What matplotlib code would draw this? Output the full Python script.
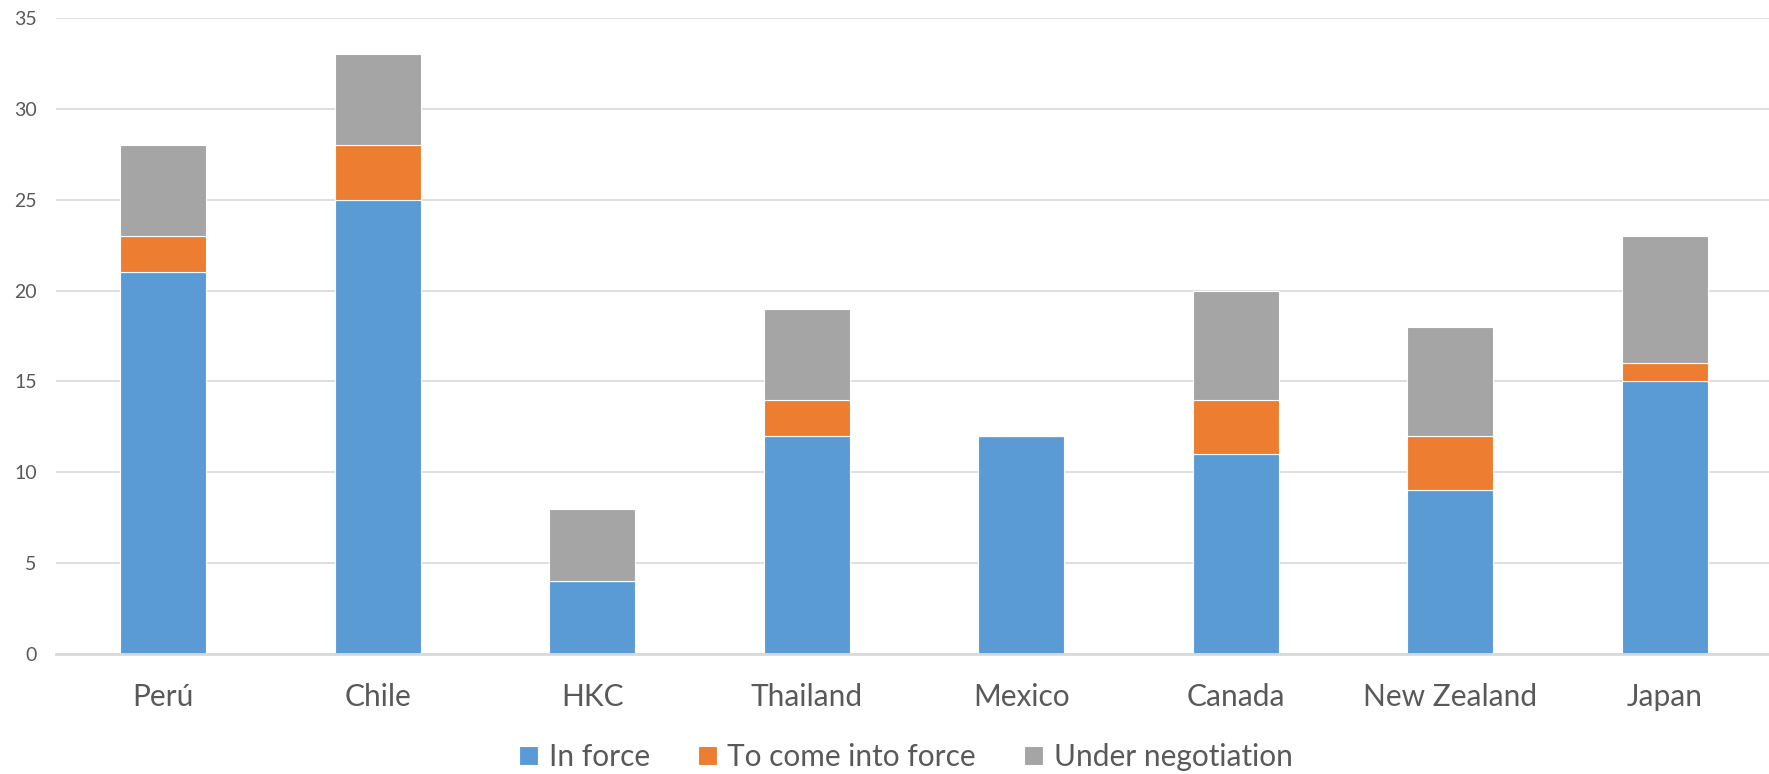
import matplotlib
matplotlib.use("Agg")
import matplotlib.pyplot as plt
import numpy as np

categories = ["Perú", "Chile", "HKC", "Thailand", "Mexico", "Canada", "New Zealand", "Japan"]
in_force = [21, 25, 4, 12, 12, 11, 9, 15]
to_come = [2, 3, 0, 2, 0, 3, 3, 1]
under_neg = [5, 5, 4, 5, 0, 6, 6, 7]
series_names = ["In force", "To come into force", "Under negotiation"]
colors = ["#5B9BD5", "#ED7D31", "#A5A5A5"]
yticks = [0, 5, 10, 15, 20, 25, 30, 35]

plt.rcParams['font.family'] = ['Lato', 'DejaVu Sans']
txt = "#595959"

fig = plt.figure(figsize=(17.69, 7.74), dpi=100)
ax = fig.add_axes([0.0317, 0.155, 0.970, 0.8217])

x = np.arange(len(categories))
w = 0.4
b1 = np.array(in_force)
b2 = b1 + np.array(to_come)
ax.bar(x, in_force, w, color=colors[0], edgecolor="white", linewidth=0.8, label=series_names[0], zorder=3)
ax.bar(x, to_come, w, bottom=b1, color=colors[1], edgecolor="white", linewidth=0.8, label=series_names[1], zorder=3)
ax.bar(x, under_neg, w, bottom=b2, color=colors[2], edgecolor="white", linewidth=0.8, label=series_names[2], zorder=3)

ax.set_xlim(-0.5, len(categories) - 0.5)
ax.set_ylim(0, 35)
ax.set_yticks(yticks)
ax.set_yticklabels([str(v) for v in yticks])
ax.set_xticks(x)
ax.set_xticklabels(categories)
ax.yaxis.grid(True, color="#D9D9D9", linewidth=1.2, zorder=0)
ax.set_axisbelow(True)
for s in ["top", "right", "left"]:
    ax.spines[s].set_visible(False)
ax.spines["bottom"].set_color("#D9D9D9")
ax.spines["bottom"].set_linewidth(2)
ax.spines["bottom"].set_zorder(4)
ax.tick_params(axis="y", length=0, pad=14, labelsize=14, labelcolor=txt)
ax.tick_params(axis="x", length=0, pad=21, labelsize=21.5, labelcolor=txt)

fig.legend(loc="center", bbox_to_anchor=(0.512, 0.022), ncol=3, frameon=False,
           fontsize=21.5, labelcolor=txt, handlelength=0.65, handleheight=0.65,
           handletextpad=0.35, columnspacing=1.6)

fig.savefig("out.png", dpi=100)
